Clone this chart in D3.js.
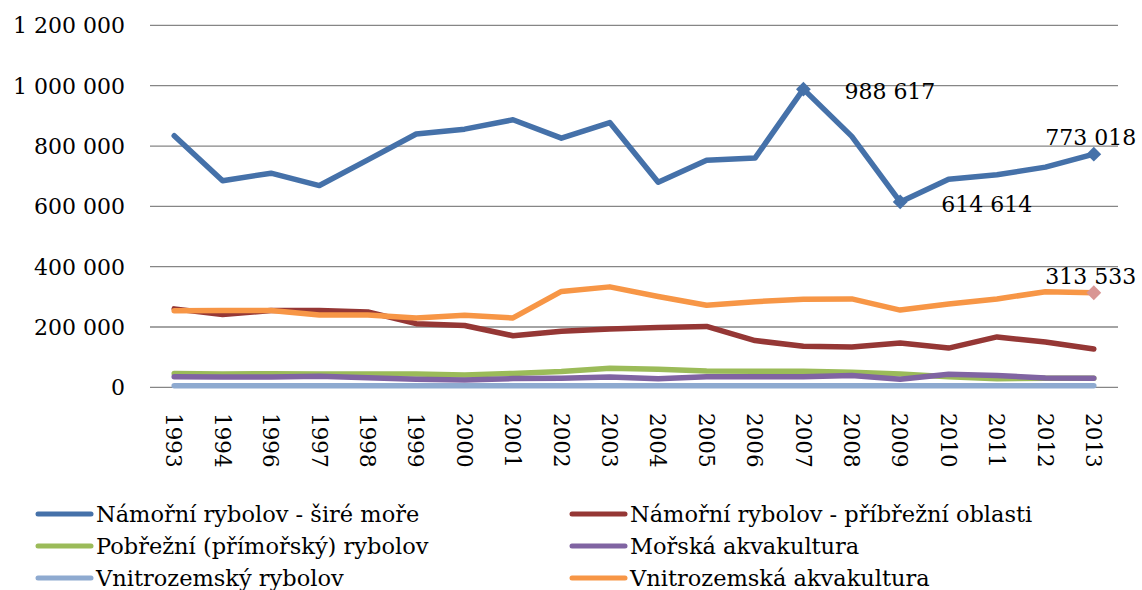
<!DOCTYPE html>
<html lang="cs">
<head>
    <meta charset="UTF-8">
    <title>Rybolov a akvakultura</title>
    <script src="https://d3js.org/d3.v7.min.js"></script>
    <style>
        body {
            margin: 0;
            background: #fff;
            font-family: 'DejaVu Serif', serif;
        }
        .grid line { stroke: #868686; stroke-width: 1.3px; }
        .ytick { font-size: 22px; fill: #000; }
        .xtick { font-size: 21.5px; fill: #000; }
        .series { fill: none; stroke-width: 5.5px; stroke-linejoin: round; stroke-linecap: round; }
        .dlabel { font-size: 22px; fill: #000; }
        .legend-text { font-size: 22.5px; fill: #000; }
    </style>
</head>
<body>
<div id="chart"></div>
<script>
    // roky (1995 v datech chybí)
    const years = ["1993", "1994", "1996", "1997", "1998", "1999", "2000", "2001", "2002", "2003",
                   "2004", "2005", "2006", "2007", "2008", "2009", "2010", "2011", "2012", "2013"];

    const yTicks = [0, 200000, 400000, 600000, 800000, 1000000, 1200000];

    const seriesNames = [
        "Námořní rybolov - širé moře",
        "Námořní rybolov - příbřežní oblasti",
        "Pobřežní (přímořský) rybolov",
        "Mořská akvakultura",
        "Vnitrozemský rybolov",
        "Vnitrozemská akvakultura"
    ];
    const seriesColors = ["#4571a9", "#953735", "#9bbb59", "#8064a2", "#8eaad0", "#f79646"];

    const sireMore = [834000, 685000, 710000, 669000, 754000, 840000, 856000, 887000, 826000, 878000,
                      680000, 753000, 760000, 988617, 832000, 614614, 690000, 705000, 730000, 773018];
    const pribrezni = [260000, 241000, 255000, 255000, 250000, 211000, 205000, 171000, 186000, 193000,
                       198000, 202000, 155000, 136000, 134000, 147000, 130000, 167000, 150000, 127000];
    const pobrezni = [46000, 44000, 45000, 44000, 44000, 44000, 41000, 46000, 52000, 63000,
                      60000, 54000, 53000, 53000, 50000, 44000, 35000, 28000, 30000, 30000];
    const morskaAkva = [35000, 34000, 34000, 37000, 32000, 26500, 24000, 29000, 30000, 34000,
                        28000, 35000, 35000, 35000, 39000, 26500, 43000, 39000, 31000, 30000];
    const vnitroRybolov = [5000, 5000, 5000, 5000, 5000, 5000, 5000, 5000, 5000, 5000,
                           5000, 5000, 5000, 5000, 5000, 5000, 5000, 5000, 5000, 5000];
    const vnitroAkva = [254000, 255000, 255000, 240000, 240000, 230000, 239000, 230000, 318000, 333000,
                        301000, 272000, 284000, 292000, 293000, 256000, 276000, 293000, 317000, 313533];

    const seriesValues = [sireMore, pribrezni, pobrezni, morskaAkva, vnitroRybolov, vnitroAkva];

    // popisky dat: [řada, rok, pozice]
    const dataLabels = [
        [0, "2007", "right"],
        [0, "2009", "right"],
        [0, "2013", "above"],
        [5, "2013", "above"]
    ];

    const width = 1142, height = 590;
    const svg = d3.select("#chart").append("svg")
        .attr("width", width)
        .attr("height", height);

    const x = d3.scaleBand().domain(years).range([150, 1118]);
    const y = d3.scaleLinear().domain([0, 1200000]).range([387.3, 25.4]);
    const cx = d => x(d) + x.bandwidth() / 2;

    const fmt = d3.formatLocale({ decimal: ",", thousands: "\u00a0", grouping: [3], currency: ["", " Kč"] }).format(",d");

    // mřížka
    svg.append("g").attr("class", "grid")
        .selectAll("line").data(yTicks).enter().append("line")
        .attr("x1", 150).attr("x2", 1118)
        .attr("y1", d => y(d)).attr("y2", d => y(d));

    svg.append("g").selectAll("text").data(yTicks).enter().append("text")
        .attr("class", "ytick")
        .attr("x", 125)
        .attr("y", d => y(d))
        .attr("dy", "0.36em")
        .attr("text-anchor", "end")
        .text(d => fmt(d));

    // osa x, svislé popisky
    svg.append("g").selectAll("text").data(years).enter().append("text")
        .attr("class", "xtick")
        .attr("transform", d => `translate(${cx(d)},413) rotate(90)`)
        .attr("dy", "0.36em")
        .text(d => d);

    // čáry
    const line = d3.line()
        .x((d, i) => cx(years[i]))
        .y(d => y(d));

    svg.append("g").selectAll("path").data(seriesValues).enter().append("path")
        .attr("class", "series")
        .attr("stroke", (d, i) => seriesColors[i])
        .attr("d", d => line(d));

    // značky u popsaných bodů
    const markerColors = { 0: "#4571a9", 5: "#d99694" };
    const diamond = d3.symbol().type(d3.symbolDiamond2).size(140);
    svg.append("g").selectAll("path").data(dataLabels).enter().append("path")
        .attr("d", diamond)
        .attr("fill", d => markerColors[d[0]])
        .attr("transform", d => {
            const v = seriesValues[d[0]][years.indexOf(d[1])];
            return `translate(${cx(d[1])},${y(v)})`;
        });

    svg.append("g").selectAll("text").data(dataLabels).enter().append("text")
        .attr("class", "dlabel")
        .attr("x", d => d[2] === "right" ? cx(d[1]) + 41 : cx(d[1]) - 3)
        .attr("y", d => {
            const v = seriesValues[d[0]][years.indexOf(d[1])];
            return d[2] === "right" ? y(v) + 2 : y(v) - 17;
        })
        .attr("dy", "0.36em")
        .attr("text-anchor", d => d[2] === "right" ? "start" : "middle")
        .text(d => fmt(seriesValues[d[0]][years.indexOf(d[1])]));

    // legenda
    const legend = svg.append("g").selectAll("g").data(seriesNames).enter().append("g")
        .attr("transform", (d, i) => `translate(${i % 2 === 0 ? 38 : 572},${514 + Math.floor(i / 2) * 32})`);

    legend.append("line")
        .attr("x1", 0).attr("x2", 53)
        .attr("stroke", (d, i) => seriesColors[i])
        .attr("stroke-width", 5)
        .attr("stroke-linecap", "round");

    legend.append("text")
        .attr("class", "legend-text")
        .attr("x", 58)
        .attr("dy", "0.36em")
        .text(d => d);
</script>
</body>
</html>
